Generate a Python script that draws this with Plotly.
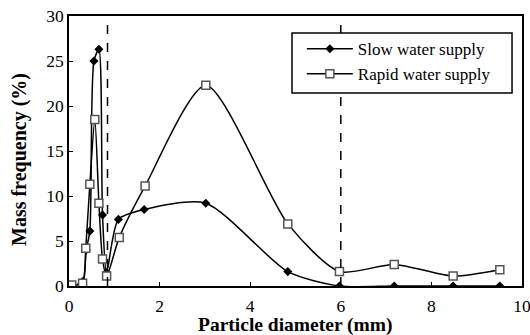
import plotly.graph_objects as go

slow_x = [0.06, 0.30, 0.38, 0.46, 0.55, 0.66, 0.74, 0.83, 1.09, 1.66, 3.02, 4.83, 5.97, 7.18, 8.48, 9.51]
slow_y = [0.0, 0.5, 4.0, 6.1, 25.0, 26.3, 7.9, 1.5, 7.4, 8.5, 9.2, 1.6, 0.0, 0.0, 0.0, 0.0]

rapid_x = [0.06, 0.30, 0.37, 0.46, 0.57, 0.66, 0.74, 0.83, 1.11, 1.68, 3.02, 4.83, 5.97, 7.18, 8.48, 9.51]
rapid_y = [0.1, 0.3, 4.2, 11.3, 18.5, 9.2, 3.0, 1.1, 5.4, 11.1, 22.3, 6.9, 1.6, 2.4, 1.1, 1.8]

x_ticks = [0, 2, 4, 6, 8, 10]
y_ticks = [0, 5, 10, 15, 20, 25, 30]
dash_x = [0.85, 6.0]

serif = "Liberation Serif"

fig = go.Figure()
fig.add_trace(go.Scatter(
    x=slow_x, y=slow_y, mode="lines+markers", name="Slow water supply",
    line=dict(color="black", width=1.5, shape="spline", smoothing=0.7),
    marker=dict(symbol="diamond", size=7, color="black"),
))
fig.add_trace(go.Scatter(
    x=rapid_x, y=rapid_y, mode="lines+markers", name="Rapid water supply",
    line=dict(color="black", width=1.5, shape="spline", smoothing=0.7),
    marker=dict(symbol="square", size=8, color="white", line=dict(color="#555", width=1.5)),
))
for dx in dash_x:
    fig.add_shape(type="line", x0=dx, x1=dx, y0=0, y1=29.5, xref="x", yref="y",
                  line=dict(color="black", width=1.5, dash="dash"))

# legend frame
fig.add_shape(type="rect", xref="paper", yref="paper",
              x0=0.4923, x1=0.978, y0=0.7148, y1=0.937, layer="above",
              fillcolor="white", line=dict(color="black", width=1.5))

fig.add_annotation(text="<b>Particle diameter (mm)</b>", xref="paper", yref="paper",
                   x=0.5, y=-0.145, xanchor="center", yanchor="middle", showarrow=False,
                   font=dict(family=serif, size=19.5, color="black"))
fig.add_annotation(text="<b>Mass frequency (%)</b>", xref="paper", yref="paper",
                   x=-0.108, y=0.467, xanchor="center", yanchor="middle", showarrow=False,
                   textangle=-90, font=dict(family=serif, size=20, color="black"))

fig.update_layout(
    width=530, height=335,
    margin=dict(l=69, r=8, t=16, b=49),
    paper_bgcolor="white", plot_bgcolor="white",
    font=dict(family=serif, size=17, color="black"),
    showlegend=True,
    legend=dict(x=0.514, y=0.831, xanchor="left", yanchor="middle",
                borderwidth=0, bgcolor="rgba(0,0,0,0)",
                font=dict(family=serif, size=17), tracegroupgap=0,
                itemwidth=46),
)
fig.update_xaxes(
    range=[0, 10], tickvals=x_ticks, ticks="inside", ticklen=4, tickcolor="black",
    showline=True, linecolor="black", linewidth=1.5, mirror=True, showgrid=False, zeroline=False,
    automargin=False, ticklabelstandoff=3, ticklabeloverflow="allow",
    tickfont=dict(family=serif, size=17.5),
)
fig.update_yaxes(
    range=[0, 30], tickvals=y_ticks, ticks="inside", ticklen=4, tickcolor="black",
    showline=True, linecolor="black", linewidth=1.5, mirror=True, showgrid=False, zeroline=False,
    automargin=False, ticklabeloverflow="allow",
    tickfont=dict(family=serif, size=17.5),
)
fig.write_html("out.html", config={"displayModeBar": False},
               post_script="document.body.style.margin='0';document.body.style.overflow='hidden';")
